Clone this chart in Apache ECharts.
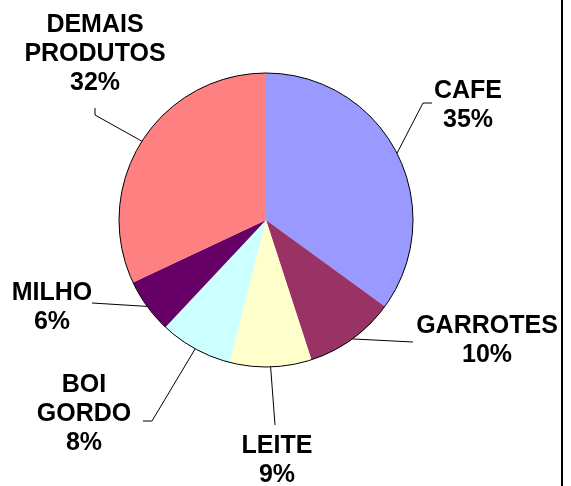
<!DOCTYPE html>
<html>
<head>
<meta charset="utf-8">
<script src="https://cdn.jsdelivr.net/npm/echarts@6/dist/echarts.min.js"></script>
<style>
  html, body { margin: 0; padding: 0; background: #fff; }
  #chart { width: 571px; height: 486px; }
</style>
</head>
<body>
<div id="chart"></div>
<script>
// dados do grafico
var produtos = ["CAFE", "GARROTES", "LEITE", "BOI\nGORDO", "MILHO", "DEMAIS\nPRODUTOS"];
var percentuais = [35, 10, 9, 8, 6, 32];
var cores = ["#9999FF", "#993366", "#FFFFCC", "#CCFFFF", "#660066", "#FF8080"];
var rotuloInterno = "51";

// posicao dos rotulos (centro do bloco de texto) e dobra da linha guia
var rotulos = [
  { x: 468, y: 106, linha: [[423, 103], [432, 103]] },
  { x: 487, y: 341, linha: [[413, 342]] },
  { x: 277, y: 461, linha: [[275, 425]] },
  { x: 84, y: 414, linha: [[152, 421], [143, 421]] },
  { x: 52, y: 308, linha: [[92, 303]] },
  { x: 95, y: 54, linha: [[95, 115], [95, 108]] }
];

var fonte = "'Liberation Sans', Arial, sans-serif";

var dados = produtos.map(function (nome, i) {
  return { name: nome, value: percentuais[i], itemStyle: { color: cores[i] } };
});

var chart = echarts.init(document.getElementById("chart"));

var option = {
  backgroundColor: "#fff",
  animation: false,
  series: [
    {
      type: "pie",
      center: [266, 220],
      radius: 147,
      startAngle: 90,
      clockwise: true,
      avoidLabelOverlap: false,
      itemStyle: { borderWidth: 0 },
      label: {
        show: true,
        position: "outside",
        formatter: function (p) {
          return p.name + "\n" + Math.round(p.percent) + "%";
        },
        color: "#000",
        fontFamily: fonte,
        fontWeight: "bold",
        fontSize: 25,
        lineHeight: 29,
        align: "center"
      },
      labelLine: {
        show: true,
        lineStyle: { color: "#000", width: 1 }
      },
      labelLayout: function (params) {
        var r = rotulos[params.dataIndex];
        var pts = [params.labelLinePoints[0]].concat(r.linha);
        return {
          x: r.x,
          y: r.y,
          align: "center",
          verticalAlign: "middle",
          labelLinePoints: pts
        };
      },
      emphasis: { disabled: true },
      data: dados
    },
    {
      // contorno externo do circulo
      type: "pie",
      center: [266, 220],
      radius: 147,
      silent: true,
      label: { show: false },
      labelLine: { show: false },
      itemStyle: { color: "transparent", borderColor: "#000", borderWidth: 1 },
      data: [{ value: 1, name: "" }]
    }
  ],
  graphic: [
    {
      type: "text",
      x: 213,
      y: 163,
      style: {
        text: rotuloInterno,
        fill: "#000",
        font: "bold 29px " + fonte,
        textAlign: "center",
        textVerticalAlign: "middle"
      }
    },
    {
      type: "rect",
      shape: { x: 561, y: 0, width: 2, height: 486 },
      style: { fill: "#000" }
    }
  ]
};

chart.setOption(option);
</script>
</body>
</html>
